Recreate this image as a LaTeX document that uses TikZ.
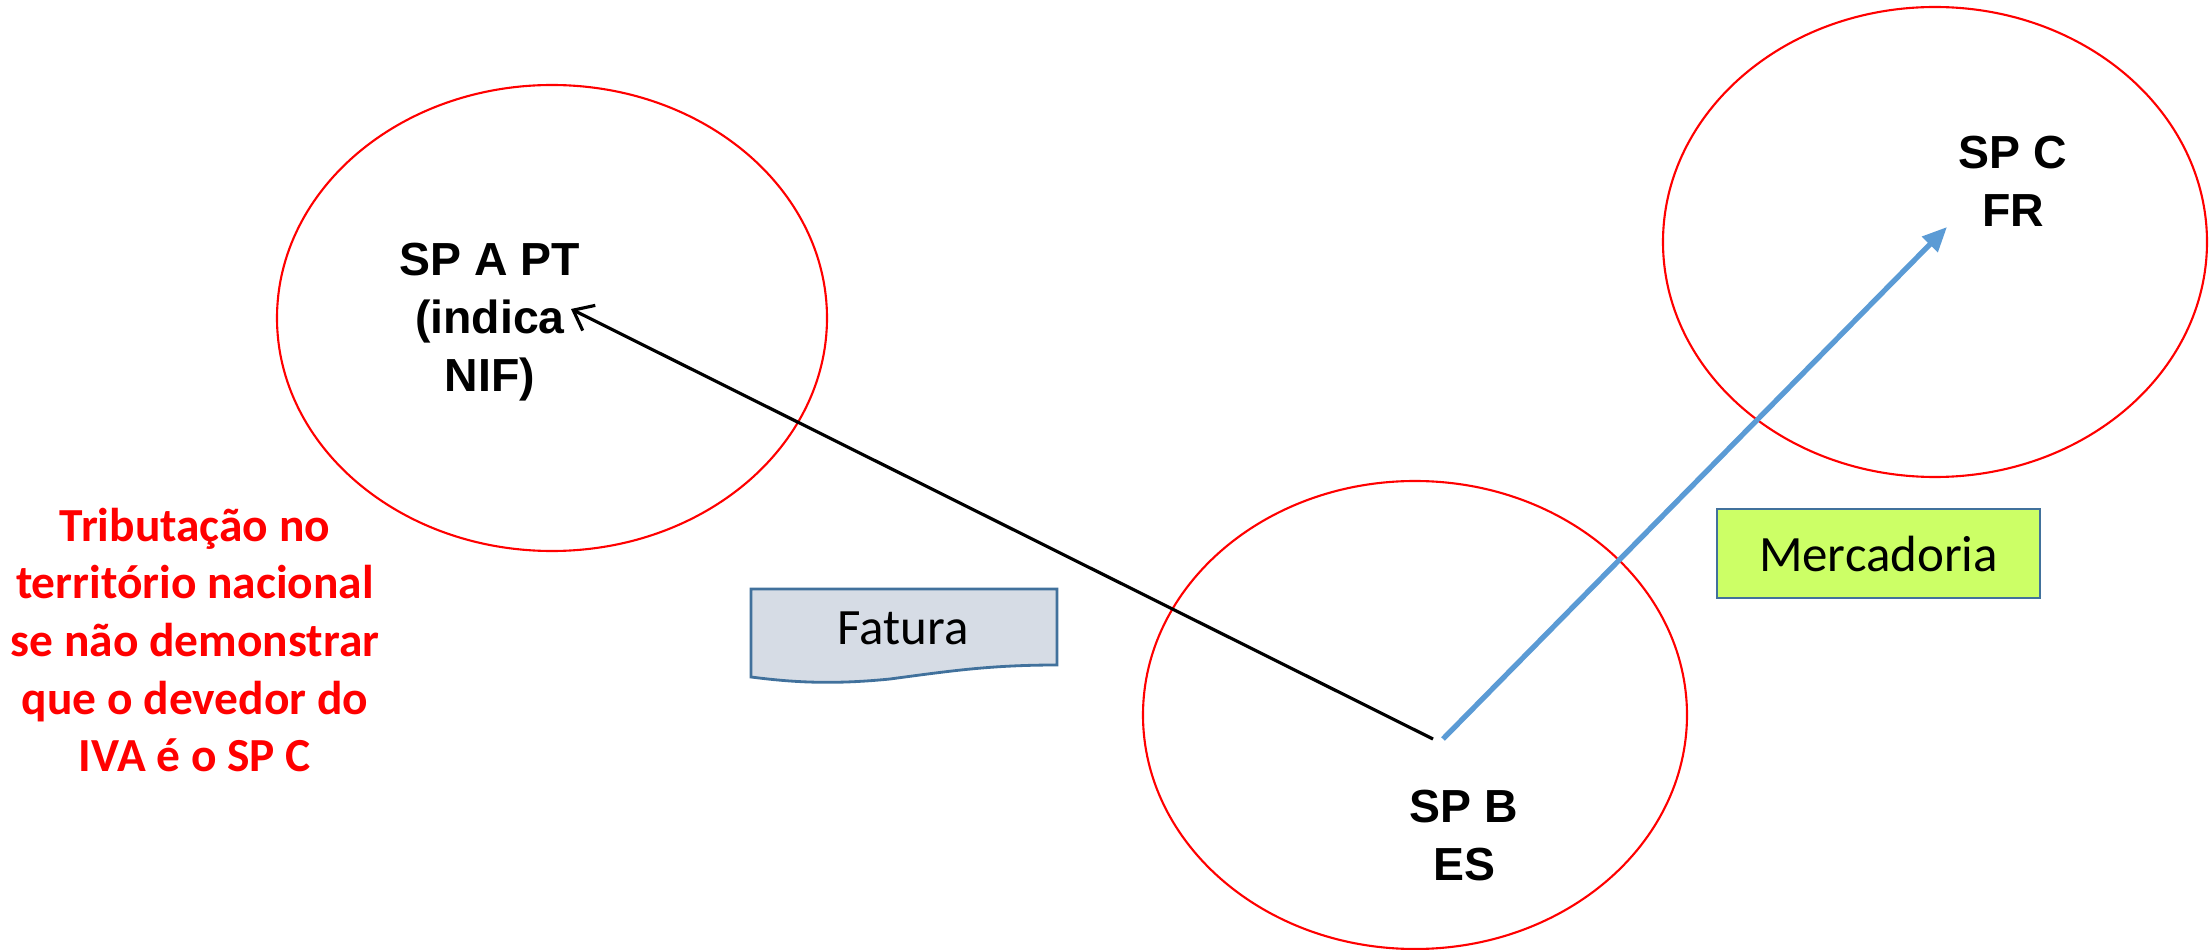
\documentclass[tikz,border=0pt]{standalone}
\usepackage{fontspec}
\setmainfont{Liberation Sans}
\newfontfamily\calibri{Carlito}
\usetikzlibrary{shapes.geometric,arrows.meta}
\definecolor{boxedge}{HTML}{41719C}
\definecolor{faturafill}{HTML}{D6DCE5}
\definecolor{mercfill}{HTML}{CCFF66}
\definecolor{flowblue}{HTML}{5B9BD5}
\tikzset{
    country/.style={draw=red, line width=0.6pt, ellipse, inner sep=0pt},
    party/.style={font=\fontsize{13.2}{16.5}\selectfont\bfseries, align=center},
    doclabel/.style={font=\calibri\fontsize{14.5}{17}\selectfont},
}
\begin{document}
\begin{tikzpicture}
    \useasboundingbox (0,0) rectangle (22.1,9.49);

    % Draw the three countries
    \node[country, minimum width=5.5cm, minimum height=4.66cm] (ptzone) at (5.52,6.31) {};
    \node[country, minimum width=5.44cm, minimum height=4.70cm] (frzone) at (19.35,7.07) {};
    \node[country, minimum width=5.44cm, minimum height=4.68cm] (eszone) at (14.15,2.34) {};

    % Labels for the parties
    \node[party] (spa) at (4.90,6.27) {SP A PT\\ (indica\\ NIF)};
    \node[party] (spc) at (20.13,7.675) {SP C\\ FR};
    \node[party] (spb) at (14.64,1.135) {SP B\\ ES};

    % Note on taxation
    \node[font=\calibri\bfseries\fontsize{13.5}{16.4}\selectfont, text=red, align=center] (note) at (1.95,3.09)
        {Tributação no\\ território nacional\\ se não demonstrar\\ que o devedor do\\ IVA é o SP C};

    % Draw the invoice flow
    \coordinate (invstart) at (14.33,2.10);
    \coordinate (invend) at (5.71,6.40);
    \draw[-{Straight Barb[length=5pt,width=8pt]}, line width=0.9pt] (invstart) -- (invend);

    % Draw the goods flow
    \coordinate (goodstart) at (14.43,2.10);
    \coordinate (goodend) at (19.47,7.22);
    \draw[-{Triangle[length=7pt,width=6pt]}, flowblue, line width=1.5pt] (goodstart) -- (goodend);

    % Invoice document
    \draw[boxedge, fill=faturafill, line width=0.8pt] (7.51,3.60) -- (10.57,3.60) -- (10.57,2.84)
        .. controls (9.9,2.84) and (9.5,2.78) .. (8.9,2.70)
        .. controls (8.3,2.64) and (7.9,2.67) .. (7.51,2.72) -- cycle;
    \node[doclabel] (fatura) at (9.03,3.21) {Fatura};

    % Goods box
    \node[doclabel, draw=boxedge, fill=mercfill, line width=0.8pt, minimum width=3.23cm,
        minimum height=0.89cm, inner sep=0pt] (merc) at (18.785,3.955) {Mercadoria};
\end{tikzpicture}
\end{document}
